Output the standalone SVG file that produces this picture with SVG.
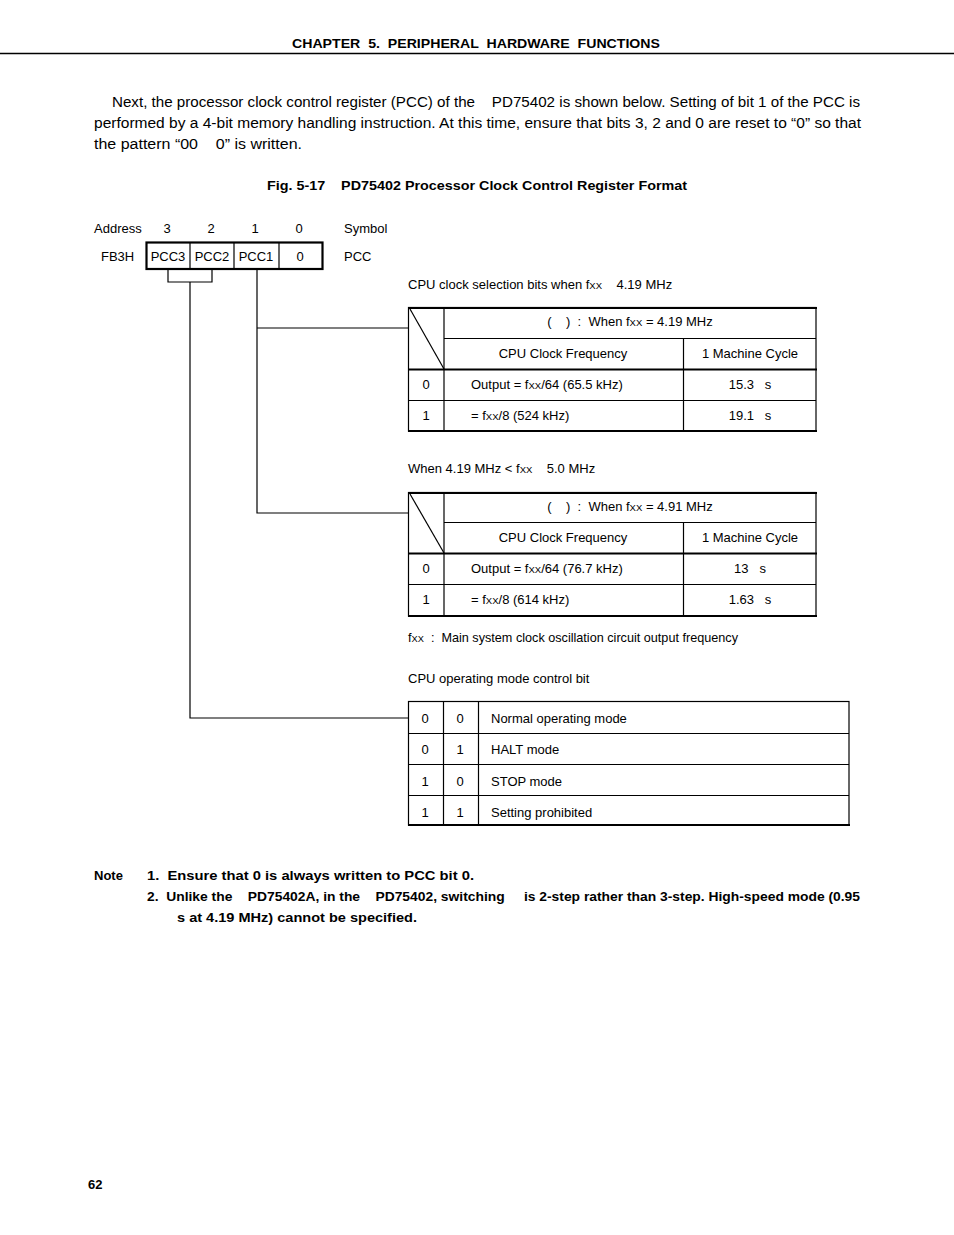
<svg xmlns="http://www.w3.org/2000/svg" width="954" height="1235" viewBox="0 0 954 1235" xml:space="preserve">
<style>
text{font-family:"Liberation Sans","Noto Sans",sans-serif;fill:#000;white-space:pre}
.h{font-size:13px;font-weight:bold}
.p{font-size:14px}
.t{font-size:13px}
.s{font-size:9.5px}
.c{text-anchor:middle}
.ln{stroke:#000;stroke-width:1.2;fill:none}
.tk{stroke:#000;stroke-width:2.2;fill:none}
</style>
<rect width="954" height="1235" fill="#fff"/>
<g id="header">
<text class="h" x="292" y="48" textLength="368" lengthAdjust="spacingAndGlyphs">CHAPTER  5.  PERIPHERAL  HARDWARE  FUNCTIONS</text>
<line x1="0" y1="53.5" x2="954" y2="53.5" stroke="#000" stroke-width="1.5"/>
</g>
<g id="paragraph">
<text class="p" x="112" y="107" textLength="748" lengthAdjust="spacingAndGlyphs">Next, the processor clock control register (PCC) of the    PD75402 is shown below. Setting of bit 1 of the PCC is</text>
<text class="p" x="94" y="128" textLength="767" lengthAdjust="spacingAndGlyphs">performed by a 4-bit memory handling instruction. At this time, ensure that bits 3, 2 and 0 are reset to “0” so that</text>
<text class="p" x="94" y="149" textLength="208" lengthAdjust="spacingAndGlyphs">the pattern “00    0” is written.</text>
</g>
<g id="title">
<text class="h" x="267" y="190" textLength="420" lengthAdjust="spacingAndGlyphs">Fig. 5-17    PD75402 Processor Clock Control Register Format</text>
</g>
<g id="register">
<text class="t" x="94" y="233">Address</text>
<text class="t c" x="167" y="233">3</text>
<text class="t c" x="211" y="233">2</text>
<text class="t c" x="255" y="233">1</text>
<text class="t c" x="299" y="233">0</text>
<text class="t" x="344" y="233">Symbol</text>
<text class="t" x="101" y="261">FB3H</text>
<text class="t" x="344" y="261">PCC</text>
<line class="ln" x1="190" y1="243" x2="190" y2="269"/>
<line class="ln" x1="234" y1="243" x2="234" y2="269"/>
<line class="ln" x1="279" y1="243" x2="279" y2="269"/>
<rect class="tk" x="146.5" y="242.5" width="176" height="26.5"/>
<text class="t c" x="168" y="261">PCC3</text>
<text class="t c" x="212" y="261">PCC2</text>
<text class="t c" x="256" y="261">PCC1</text>
<text class="t c" x="300" y="261">0</text>
</g>
<g id="connectors">
<polyline class="ln" points="168,269 168,282 212,282 212,269"/>
<polyline class="ln" points="190,282 190,718 408,718"/>
<polyline class="ln" points="257,269 257,513 408,513"/>
<line class="ln" x1="257" y1="328" x2="408" y2="328"/>
</g>
<g id="table1">
<text class="t" x="408" y="289">CPU clock selection bits when f<tspan class="s">XX</tspan>    4.19 MHz</text>
<rect class="ln" x="408.5" y="307.5" width="407.5" height="123.5"/>
<line class="tk" x1="408" y1="308" x2="817" y2="308"/>
<line class="tk" x1="408" y1="369.5" x2="817" y2="369.5"/>
<line class="tk" x1="408" y1="431" x2="817" y2="431"/>
<line class="ln" x1="444" y1="308" x2="444" y2="431"/>
<line class="ln" x1="444" y1="338.5" x2="816" y2="338.5"/>
<line class="ln" x1="408" y1="400.5" x2="816" y2="400.5"/>
<line class="ln" x1="683.5" y1="338" x2="683.5" y2="431"/>
<line class="ln" x1="410" y1="309" x2="444" y2="369"/>
<text class="t c" x="630" y="326">(    )  :  When f<tspan class="s">XX</tspan> = 4.19 MHz</text>
<text class="t c" x="563" y="358">CPU Clock Frequency</text>
<text class="t c" x="750" y="358">1 Machine Cycle</text>
<text class="t c" x="426" y="389">0</text>
<text class="t" x="471" y="389">Output = f<tspan class="s">XX</tspan>/64 (65.5 kHz)</text>
<text class="t c" x="750" y="389">15.3   s</text>
<text class="t c" x="426" y="420">1</text>
<text class="t" x="471" y="420">= f<tspan class="s">XX</tspan>/8 (524 kHz)</text>
<text class="t c" x="750" y="420">19.1   s</text>
</g>
<g id="table2">
<text class="t" x="408" y="473">When 4.19 MHz &lt; f<tspan class="s">XX</tspan>    5.0 MHz</text>
<rect class="ln" x="408.5" y="492.5" width="407.5" height="123.5"/>
<line class="tk" x1="408" y1="493" x2="817" y2="493"/>
<line class="tk" x1="408" y1="553.5" x2="817" y2="553.5"/>
<line class="tk" x1="408" y1="616" x2="817" y2="616"/>
<line class="ln" x1="444" y1="493" x2="444" y2="616"/>
<line class="ln" x1="444" y1="522.5" x2="816" y2="522.5"/>
<line class="ln" x1="408" y1="584.5" x2="816" y2="584.5"/>
<line class="ln" x1="683.5" y1="522" x2="683.5" y2="616"/>
<line class="ln" x1="410" y1="494" x2="444" y2="553"/>
<text class="t c" x="630" y="511">(    )  :  When f<tspan class="s">XX</tspan> = 4.91 MHz</text>
<text class="t c" x="563" y="542">CPU Clock Frequency</text>
<text class="t c" x="750" y="542">1 Machine Cycle</text>
<text class="t c" x="426" y="573">0</text>
<text class="t" x="471" y="573">Output = f<tspan class="s">XX</tspan>/64 (76.7 kHz)</text>
<text class="t c" x="750" y="573">13   s</text>
<text class="t c" x="426" y="604">1</text>
<text class="t" x="471" y="604">= f<tspan class="s">XX</tspan>/8 (614 kHz)</text>
<text class="t c" x="750" y="604">1.63   s</text>
<text class="t" x="408" y="642" textLength="330" lengthAdjust="spacingAndGlyphs">f<tspan class="s">XX</tspan>  :  Main system clock oscillation circuit output frequency</text>
</g>
<g id="table3">
<text class="t" x="408" y="683">CPU operating mode control bit</text>
<rect class="ln" x="408.5" y="701.5" width="440.5" height="123.5"/>
<line class="tk" x1="408" y1="825" x2="850" y2="825"/>
<line class="ln" x1="443.5" y1="702" x2="443.5" y2="825"/>
<line class="ln" x1="478.5" y1="702" x2="478.5" y2="825"/>
<line class="ln" x1="408" y1="733.5" x2="849" y2="733.5"/>
<line class="ln" x1="408" y1="764.5" x2="849" y2="764.5"/>
<line class="ln" x1="408" y1="795.5" x2="849" y2="795.5"/>
<text class="t c" x="425" y="723">0</text><text class="t c" x="460" y="723">0</text><text class="t" x="491" y="723">Normal operating mode</text>
<text class="t c" x="425" y="754">0</text><text class="t c" x="460" y="754">1</text><text class="t" x="491" y="754">HALT mode</text>
<text class="t c" x="425" y="786">1</text><text class="t c" x="460" y="786">0</text><text class="t" x="491" y="786">STOP mode</text>
<text class="t c" x="425" y="817">1</text><text class="t c" x="460" y="817">1</text><text class="t" x="491" y="817">Setting prohibited</text>
</g>
<g id="notes">
<text class="h" x="94" y="880">Note</text>
<text class="h" x="147" y="880" textLength="327" lengthAdjust="spacingAndGlyphs">1.  Ensure that 0 is always written to PCC bit 0.</text>
<text class="h" x="147" y="901" textLength="713" lengthAdjust="spacingAndGlyphs">2.  Unlike the    PD75402A, in the    PD75402, switching     is 2-step rather than 3-step. High-speed mode (0.95</text>
<text class="h" x="177" y="922" textLength="240" lengthAdjust="spacingAndGlyphs">s at 4.19 MHz) cannot be specified.</text>
</g>
<g id="footer">
<text class="h" x="88" y="1189">62</text>
</g>
</svg>
